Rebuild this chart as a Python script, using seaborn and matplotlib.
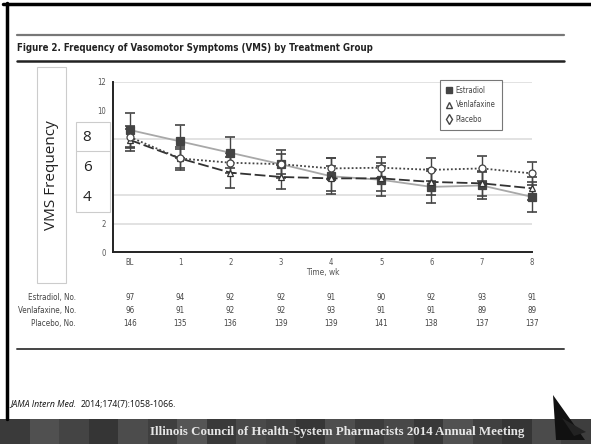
import matplotlib
matplotlib.use("Agg")
import matplotlib.pyplot as plt
import seaborn as sns
import pandas as pd
from matplotlib.lines import Line2D
from matplotlib.patches import Rectangle, Polygon

# --- data ---
weeks = [0, 1, 2, 3, 4, 5, 6, 7, 8]
week_labels = ["BL", "1", "2", "3", "4", "5", "6", "7", "8"]

estradiol = [8.6, 7.8, 7.0, 6.2, 5.35, 5.1, 4.6, 4.7, 3.9]
estradiol_err = [1.2, 1.15, 1.1, 1.0, 1.25, 1.15, 1.1, 0.95, 1.05]
venlafaxine = [7.9, 6.6, 5.6, 5.3, 5.2, 5.2, 4.95, 4.85, 4.5]
venlafaxine_err = [0.8, 0.8, 1.1, 0.85, 0.9, 0.9, 0.9, 0.9, 0.8]
placebo = [8.1, 6.6, 6.3, 6.2, 5.9, 5.95, 5.8, 5.9, 5.55]
placebo_err = [0.75, 0.7, 0.7, 0.7, 0.75, 0.75, 0.8, 0.85, 0.8]

estradiol_n = [97, 94, 92, 92, 91, 90, 92, 93, 91]
venlafaxine_n = [96, 91, 92, 92, 93, 91, 91, 89, 89]
placebo_n = [146, 135, 136, 139, 139, 141, 138, 137, 137]

y_ticks = [0, 2, 4, 6, 8, 10, 12]
grid_levels = [2, 4, 8, 12]
overlay_ticks = ["8", "6", "4"]

W, H = 591, 444


def fx(px):
    return px / W


def fy(py):
    return 1 - py / H


sns.set_theme(style="white")
plt.rcParams["font.family"] = ["DejaVu Sans"]
plt.rcParams["font.stretch"] = "condensed"

fig = plt.figure(figsize=(W / 100, H / 100), dpi=100)
fig.patch.set_facecolor("white")

ax = fig.add_axes([fx(112.7), fy(252.3), fx(532) - fx(112.7), fy(81.7) - fy(252.3)])
ax.set_xlim(-0.344, 8)
ax.set_ylim(0, 12)

for g in grid_levels:
    ax.axhline(g, color="#dddddd", lw=1.2, zorder=0)

series = [
    ("Estradiol", estradiol, estradiol_err, "s", "#444444", "#444444", "#a8a8a8", "-", 6),
    ("Venlafaxine", venlafaxine, venlafaxine_err, "^", "white", "#333333", "#333333", (0, (6, 2)), 5),
    ("Placebo", placebo, placebo_err, "o", "white", "#444444", "#444444", (0, (1, 1.2)), 5),
]

for name, vals, errs, mk, mfc, mec, lc, ls, ms in series:
    df = pd.DataFrame({"week": weeks, "freq": vals})
    ax.errorbar(weeks, vals, yerr=errs, fmt="none", ecolor="#444444",
                elinewidth=1.0, capsize=3.5, capthick=1.2, zorder=2, clip_on=False)
    sns.lineplot(data=df, x="week", y="freq", ax=ax, color=lc, lw=1.3,
                 linestyle=ls, marker=mk, markersize=ms, markerfacecolor=mfc,
                 markeredgecolor=mec, markeredgewidth=0.9, zorder=3, clip_on=False)

ax.set_xticks(weeks)
ax.set_xticklabels(week_labels)
ax.set_yticks(y_ticks)
ax.set_yticklabels([str(t) for t in y_ticks])
ax.tick_params(axis="both", labelsize=5.5, colors="#333333", labelcolor="#555555",
               direction="inout", length=4, width=1, pad=2)
ax.tick_params(axis="y", direction="out", length=3)
for side in ["top", "right"]:
    ax.spines[side].set_visible(False)
for side in ["left", "bottom"]:
    ax.spines[side].set_color("#222222")
    ax.spines[side].set_linewidth(1.4)
ax.set_xlabel("Time, wk", fontsize=6, color="#555555", labelpad=1)
ax.set_ylabel("")

handles = [
    Line2D([], [], ls="none", marker="s", ms=5, mfc="#444444", mec="#444444"),
    Line2D([], [], ls="none", marker="^", ms=5, mfc="white", mec="#444444"),
    Line2D([], [], ls="none", marker="d", ms=5, mfc="white", mec="#444444"),
]
leg = ax.legend(handles, ["Estradiol", "Venlafaxine", "Placebo"],
                loc="upper left", bbox_to_anchor=((435.7 - 112.7) / 419.3, (252.3 - 76) / 170.6),
                fontsize=5.5, frameon=True, fancybox=False, borderpad=0.8,
                handletextpad=0.3, handlelength=1.0, labelspacing=0.7)
leg.get_frame().set_edgecolor("#555555")
leg.get_frame().set_linewidth(0.8)
for t in leg.get_texts():
    t.set_color("#444444")

# counts table under the axis
row_y = [297, 310, 323]
row_names = ["Estradiol, No.", "Venlafaxine, No.", "Placebo, No."]
for py, label, counts in zip(row_y, row_names, [estradiol_n, venlafaxine_n, placebo_n]):
    fig.text(fx(76), fy(py), label, ha="right", va="center", fontsize=5.8, color="#444444")
    for wk, n in zip(weeks, counts):
        ax.text(wk, (252.3 - py) / 170.6, str(n), transform=ax.get_xaxis_transform(),
                ha="center", va="center", fontsize=5.8, color="#444444", clip_on=False)

# slide decoration
fig.add_artist(Line2D([fx(3), fx(591)], [fy(4), fy(4)], color="black", lw=2.5))
fig.add_artist(Line2D([fx(6.5), fx(6.5)], [fy(3), fy(419)], color="black", lw=2.5))
fig.add_artist(Line2D([fx(17), fx(564)], [fy(35), fy(35)], color="#777777", lw=1.6))
fig.add_artist(Line2D([fx(17), fx(564)], [fy(61), fy(61)], color="#222222", lw=1.8))
fig.add_artist(Line2D([fx(17), fx(564)], [fy(349), fy(349)], color="#444444", lw=1.4))
fig.text(fx(17), fy(48), "Figure 2. Frequency of Vasomotor Symptoms (VMS) by Treatment Group",
         ha="left", va="center", fontsize=6.9, fontweight="semibold", color="#222222")

# overlay boxes
fig.add_artist(Rectangle((fx(36.7), fy(283)), fx(66) - fx(36.7), fy(67) - fy(283),
                         facecolor="white", edgecolor="#cccccc", lw=0.8, zorder=5))
fig.text(fx(51.5), fy(175), "VMS Frequency", rotation=90, ha="center", va="center",
         fontsize=11, color="#222222", family=["Open Sans", "DejaVu Sans"],
         fontstretch="normal", zorder=6)
fig.add_artist(Rectangle((fx(75.7), fy(212)), fx(110) - fx(75.7), fy(121.7) - fy(212),
                         facecolor="white", edgecolor="#cccccc", lw=0.8, zorder=5))
fig.add_artist(Line2D([fx(75.7), fx(110)], [fy(150.7), fy(150.7)], color="#cccccc", lw=0.8, zorder=6))
for py, t in zip([137, 167, 197], overlay_ticks):
    fig.text(fx(87), fy(py), t, ha="center", va="center", fontsize=11, color="#222222",
             family=["Open Sans", "DejaVu Sans"], fontstretch="normal", zorder=6)

# citation: italic journal name followed by the plain reference
cite1 = fig.text(fx(10), fy(404), "JAMA Intern Med.", ha="left", va="center", fontsize=6.3,
                 style="italic", color="#111111", family=["Open Sans", "DejaVu Sans"],
                 fontstretch="normal")
fig.canvas.draw()
bb = cite1.get_window_extent()
fig.text(bb.x1 / W + fx(4), fy(404), "2014;174(7):1058-1066.", ha="left", va="center",
         fontsize=6.3, color="#111111", family=["Open Sans", "DejaVu Sans"], fontstretch="normal")

# footer banner
tile_shades = ["#3a3a3a", "#505050", "#444444", "#353535", "#4c4c4c", "#3f3f3f", "#555555",
               "#393939", "#4a4a4a", "#424242", "#363636", "#4e4e4e", "#3c3c3c", "#484848",
               "#383838", "#515151", "#404040", "#353535", "#4b4b4b", "#3e3e3e"]
tw = W / len(tile_shades)
for i, c in enumerate(tile_shades):
    fig.add_artist(Rectangle((fx(i * tw), 0), fx(tw) + 0.001, fy(419), facecolor=c,
                             edgecolor="none", zorder=1))
fig.text(fx(337), fy(432), "Illinois Council of Health-System Pharmacists 2014 Annual Meeting",
         ha="center", va="center", fontsize=9.3, fontweight="bold", color="#e6e6e6",
         family=["Liberation Serif", "DejaVu Serif"], fontstretch="normal", zorder=3)
fig.add_artist(Polygon([(fx(553), fy(395)), (fx(585), fy(440)), (fx(556), fy(440))],
                       closed=True, facecolor="#111111", edgecolor="none", zorder=4))
fig.add_artist(Polygon([(fx(562), fy(418)), (fx(586), fy(432)), (fx(574), fy(436))],
                       closed=True, facecolor="#222222", edgecolor="none", zorder=4))

fig.savefig("out.png", dpi=100, facecolor="white")
